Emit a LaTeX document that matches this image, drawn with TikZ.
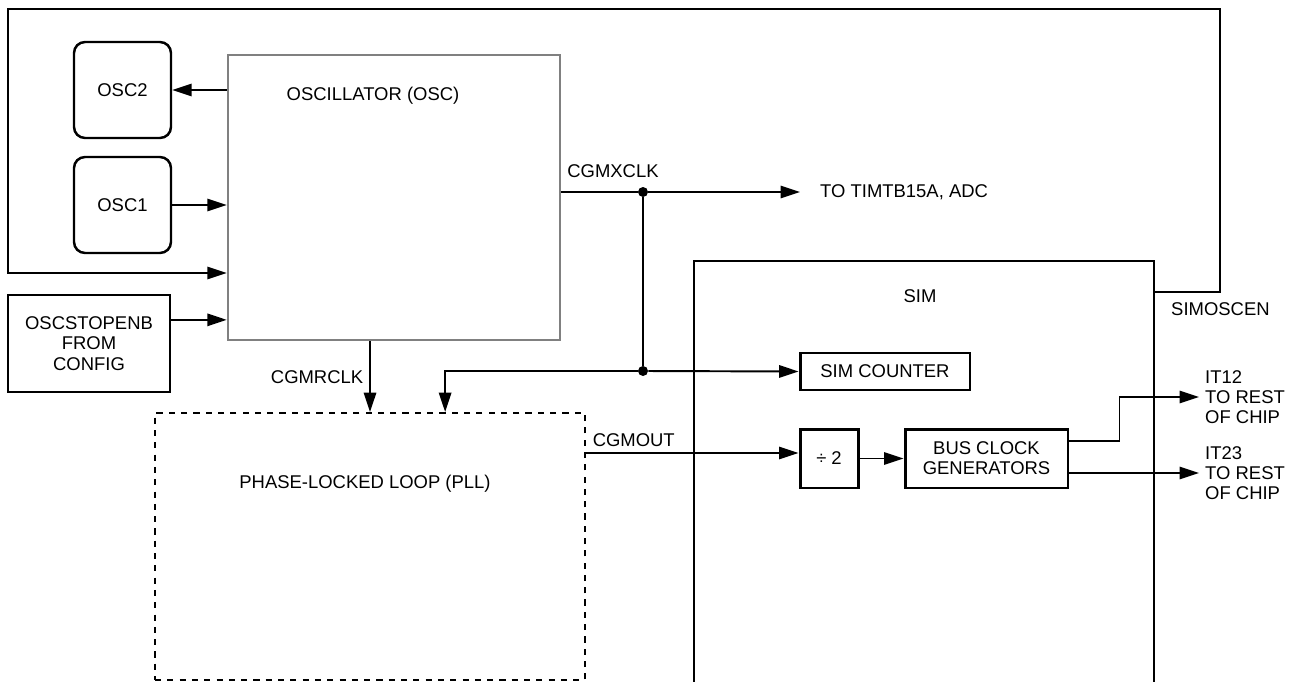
\documentclass[tikz,border=0pt]{standalone}
\usepackage{fontspec}
\setmainfont{Liberation Sans}
\usetikzlibrary{arrows.meta,calc}

\tikzset{
  lbl/.style={font=\fontsize{10.5}{11.5}\selectfont},
  wire/.style={line width=1.1pt},
  arr/.style={wire, -{Triangle[length=11pt,width=7pt]}},
  blk/.style={draw, line width=1.7pt, lbl, align=center, inner sep=2pt},
  oscblk/.style={draw, rounded corners=0.22cm, line width=1.4pt, lbl,
    minimum width=1.94cm, minimum height=1.92cm},
  dot/.style={circle, fill, inner sep=0pt, minimum size=0.2cm},
}

\begin{document}
\begin{tikzpicture}[x=0.02cm, y=-0.02cm]
\useasboundingbox (0,0) rectangle (1311,682);

% Oscillator side
\node[oscblk] (osc2) at (122.5,90) {OSC2};
\node[oscblk] (osc1) at (122.5,205) {OSC1};
\node[draw=black!50, line width=1.5pt,
  minimum width=6.64cm, minimum height=5.7cm] (osc) at (394,197.5) {};
\node[lbl] (osclbl) at (373,96) {OSCILLATOR (OSC)};
\node[draw, line width=1.3pt, lbl, align=center,
  minimum width=3.24cm, minimum height=1.94cm] (cfg) at (89,343.5) {OSCSTOPENB\\FROM\\CONFIG};

% PLL
\node[draw, line width=1.1pt, dash pattern=on 3.5pt off 3.5pt,
  minimum width=8.6cm, minimum height=5.34cm] (pll) at (370,546.5) {};
\node[lbl] (plllbl) at (365,484) {PHASE-LOCKED LOOP (PLL)};

% SIM (runs off the bottom)
\draw[wire] (694,690) |- (1154,261) -- (1154,690);
\node[lbl] (simlbl) at (920,296) {SIM};
\node[blk, minimum width=3.4cm, minimum height=0.74cm] (simcnt) at (885,371.5) {SIM COUNTER};
\node[blk, minimum width=1.16cm, minimum height=1.18cm] (div2) at (829,458.5) {÷ 2};
\node[blk, minimum width=3.26cm, minimum height=1.18cm] (bus) at (986.5,458.5) {BUS CLOCK\\GENERATORS};

% Outside labels
\node[lbl, anchor=west] (tim) at (814,192) {TO TIMTB15A, ADC};
\node[lbl, anchor=south west, inner sep=0pt] (xclk) at (567,178) {CGMXCLK};
\node[lbl, anchor=west] (simen) at (1165,309) {SIMOSCEN};
\node[lbl, anchor=west, align=left] (it12) at (1199,397) {IT12\\TO REST\\OF CHIP};
\node[lbl, anchor=west, align=left] (it23) at (1199,473) {IT23\\TO REST\\OF CHIP};

% Junctions
\node[dot] (j1) at (643,192) {};
\node[dot] (j2) at (643,371) {};
\coordinate (simout) at (1154,292);
\coordinate (topR) at (1220,9);
\coordinate (topL) at (8,273);
\path ([yshift=-0.52cm]cfg.north east) coordinate (cfgout);
\path ([yshift=0.11cm]div2.west) coordinate (div2in);

% Connectors
\draw[arr] (osc.west |- osc2.east) -- (osc2.east);
\draw[arr] (osc1.east) -- (osc.west |- osc1.east);
\draw[arr] (cfgout) -- (osc.west |- cfgout);
\draw[arr] (simout) -| (topR) -| (topL) -- (osc.west |- topL);
\draw[wire] (osc.east |- j1) -- (j1);
\draw[arr, shorten >=0.28cm] (j1) -- (tim.west);
\draw[wire] (j1) -- (j2);
\draw[arr] (j2) -- (simcnt.west);
\draw[arr] (j2) -| ($(pll.north west)!0.674!(pll.north east)$);
\draw[arr] (osc.south -| pll.north) -- node[lbl, left] {CGMRCLK} (pll.north);
\draw[arr] (pll.east |- div2in) node[lbl, above right] {CGMOUT} -- (div2in);
\draw[arr] (div2) -- (bus);
\draw[arr] ([yshift=0.35cm]bus.east) -- ++(50,0) |- (it12.west);
\draw[arr] (bus.east |- it23.west) -- (it23.west);

\end{tikzpicture}
\end{document}
